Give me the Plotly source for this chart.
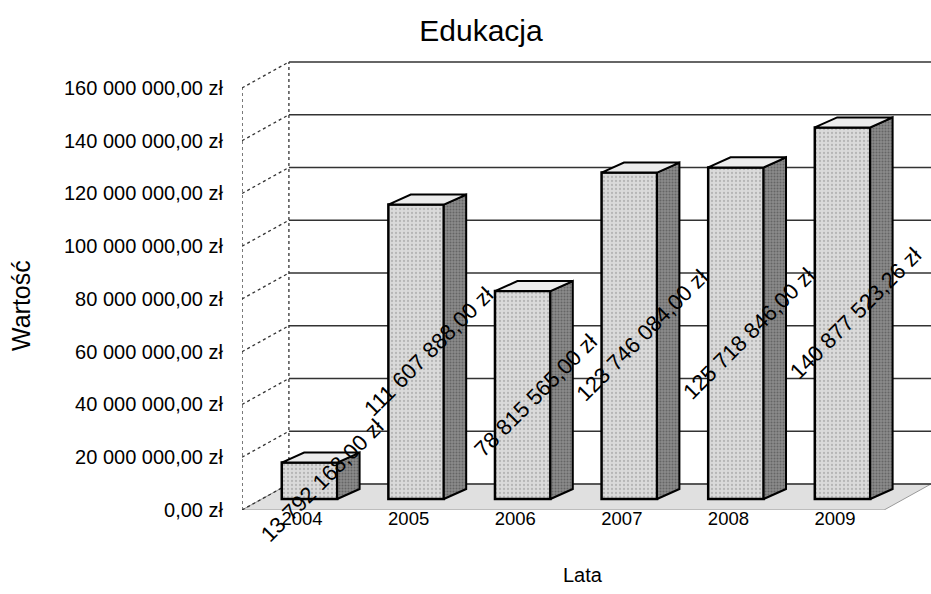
import plotly.graph_objects as go

# ---------------- data ----------------
years = ["2004", "2005", "2006", "2007", "2008", "2009"]
values = [13792168.00, 111607888.00, 78815565.00, 123746084.00, 125718846.00, 140877523.26]
y_ticks = [0, 20e6, 40e6, 60e6, 80e6, 100e6, 120e6, 140e6, 160e6]

title_text = "Edukacja"
x_title = "Lata"
y_title = "Wartość"


def pln(v):
    s = f"{v:,.2f}".replace(",", " ").replace(".", ",")
    return s + " zł"


# ---------------- pseudo-3D geometry (data units) ----------------
idx = list(range(len(years)))
W = 931
H = 594
ML, MR, MT, MB = 242, 0, 55, 84
X0, X1 = -0.563, 5.90
Y0, Y1 = 0, 172.5e6
WALL_DX, WALL_DY = 0.44, 9.86e6      # depth of the chart box
BAR_OFF, BAR_W = 0.07, 0.52          # bar position within category
BAR_BASE = 4.17e6                    # bars stand in the middle of the floor depth
SIDE_DX, SIDE_DY = 0.21, 3.8e6       # depth of a bar

FONT = "Liberation Sans, Arial, sans-serif"
FRONT = "#dadada"
SIDE = "#8a8a8a"
TOP = "#ececec"
FLOOR = "#e0e0e0"
GRID = "#333333"

fig = go.Figure()

shapes = []
# floor
shapes.append(dict(
    type="path", xref="x", yref="y", layer="below",
    path=(f"M {X0},{Y0} L {X1 - WALL_DX},{Y0} L {X1},{Y0 + WALL_DY} "
          f"L {X0 + WALL_DX},{Y0 + WALL_DY} Z"),
    fillcolor=FLOOR, line=dict(color="#9a9a9a", width=1)))
# back wall gridlines and left wall lines
for t in y_ticks:
    shapes.append(dict(type="line", xref="x", yref="y", layer="below",
                       x0=X0 + WALL_DX, x1=X1, y0=t + WALL_DY, y1=t + WALL_DY,
                       line=dict(color=GRID, width=1.6)))
    shapes.append(dict(type="line", xref="x", yref="y", layer="below",
                       x0=X0, x1=X0 + WALL_DX, y0=t, y1=t + WALL_DY,
                       line=dict(color=GRID, width=1.3, dash="dot")))
top_t = max(y_ticks)
shapes.append(dict(type="line", xref="x", yref="y", layer="below",
                   x0=X0, x1=X0, y0=0, y1=top_t,
                   line=dict(color=GRID, width=1.3, dash="dot")))
shapes.append(dict(type="line", xref="x", yref="y", layer="below",
                   x0=X0 + WALL_DX, x1=X0 + WALL_DX, y0=WALL_DY, y1=top_t + WALL_DY,
                   line=dict(color=GRID, width=1.3, dash="dot")))

# front faces of the bars
bar_x = [i + BAR_OFF for i in idx]
fig.add_trace(go.Bar(
    x=bar_x, y=values, base=[BAR_BASE] * len(values), width=BAR_W,
    marker=dict(color=FRONT, line=dict(color="black", width=2.5),
                pattern=dict(shape=".", fgcolor="#8f8f8f", bgcolor=FRONT, size=4, solidity=0.25)),
    hoverinfo="skip", showlegend=False))

# side and top faces
for c, v in zip(bar_x, values):
    xl, xr = c - BAR_W / 2, c + BAR_W / 2
    b, tp = BAR_BASE, BAR_BASE + v
    fig.add_trace(go.Scatter(
        x=[xr, xr + SIDE_DX, xr + SIDE_DX, xr, xr],
        y=[b, b + SIDE_DY, tp + SIDE_DY, tp, b],
        mode="lines", fill="toself", fillcolor=SIDE,
        fillpattern=dict(shape=".", fgcolor="#3f3f3f", bgcolor=SIDE, size=3, solidity=0.35),
        line=dict(color="black", width=2), hoverinfo="skip", showlegend=False))
    fig.add_trace(go.Scatter(
        x=[xl, xl + SIDE_DX, xr + SIDE_DX, xr, xl],
        y=[tp, tp + SIDE_DY, tp + SIDE_DY, tp, tp],
        mode="lines", fill="toself", fillcolor=TOP,
        line=dict(color="black", width=2), hoverinfo="skip", showlegend=False))

annotations = []
for c, v in zip(bar_x, values):
    annotations.append(dict(
        x=c + 0.12, y=BAR_BASE + v / 2, xref="x", yref="y",
        xanchor="center", yanchor="middle",
        text=pln(v), showarrow=False, textangle=-45,
        font=dict(family=FONT, size=22, color="black")))

annotations.append(dict(
    x=(21 - ML) / (W - ML - MR), y=(H - MB - 306) / (H - MT - MB),
    xref="paper", yref="paper", xanchor="center", yanchor="middle",
    text=y_title, showarrow=False, textangle=-90,
    font=dict(family=FONT, size=25, color="black")))
annotations.append(dict(
    x=(583 - ML) / (W - ML - MR), y=(H - MB - 575) / (H - MT - MB),
    xref="paper", yref="paper", xanchor="center", yanchor="middle",
    text=x_title, showarrow=False,
    font=dict(family=FONT, size=20, color="black")))

fig.update_layout(
    width=W, height=H,
    margin=dict(l=ML, r=MR, t=MT, b=MB),
    paper_bgcolor="white", plot_bgcolor="white",
    title=dict(text=title_text, x=481 / W, xref="container", xanchor="center",
               y=1 - 30 / H, yref="container", yanchor="middle",
               font=dict(family=FONT, size=30, color="black")),
    xaxis=dict(range=[X0, X1], tickmode="array", tickvals=idx, ticktext=years,
               showgrid=False, zeroline=False, showline=False, ticks="",
               ticklabelstandoff=-5,
               tickfont=dict(family=FONT, size=18.5, color="black")),
    yaxis=dict(range=[Y0, Y1], tickmode="array", tickvals=y_ticks,
               ticktext=[pln(t) for t in y_ticks],
               showgrid=False, zeroline=False, showline=False, ticks="",
               ticklabelstandoff=18,
               tickfont=dict(family=FONT, size=20, color="black")),
    shapes=shapes, annotations=annotations, showlegend=False,
)

fig.write_html("out.html", config={"displayModeBar": False},
               post_script="document.body.style.margin='0';document.body.style.padding='0';")
